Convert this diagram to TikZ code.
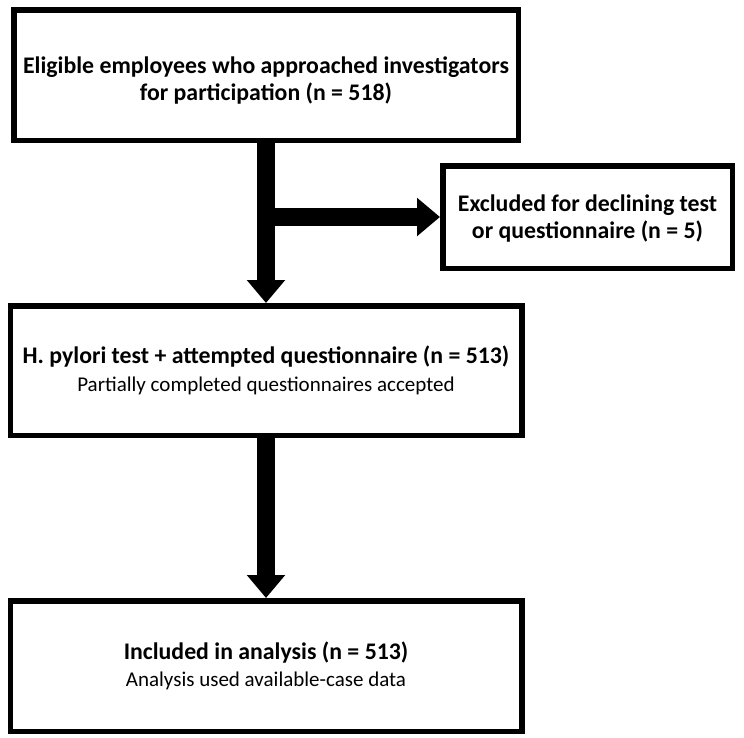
\documentclass[tikz,border=0pt]{standalone}
\usepackage{fontspec}
\setmainfont{Carlito}
\usetikzlibrary{positioning,arrows.meta}
\newcommand{\headline}{\fontsize{23.8}{28}\selectfont\bfseries}
\tikzset{
    flowbox/.style={draw=black,line width=5.5pt,fill=white,align=center,
        inner sep=6pt,font=\fontsize{21}{27.5}\selectfont},
    bigarrow/.style={-{Triangle[width=37pt,length=23pt]},draw=black,line width=18pt}
}

\begin{document}
\begin{tikzpicture}[x=1pt,y=1pt,node distance=160pt]
    \useasboundingbox (0,0) rectangle (744,-737);
    \node[flowbox,minimum width=504.5pt,minimum height=130.5pt] (elig) at (266,-75) {
        \rule{0pt}{28pt}\headline Eligible employees who approached investigators\\
        \headline for participation (n = 518)};
    \node[flowbox,minimum width=289.5pt,minimum height=102.5pt] (excl) at (587.5,-217) {
        \rule{0pt}{20pt}\headline Excluded for declining test\\
        \headline or questionnaire (n = 5)};
    \node[flowbox,minimum width=511.5pt,minimum height=129.5pt] (test) [below=of elig] {
        \headline H. pylori test + attempted questionnaire (n = 513)\\
        Partially completed questionnaires accepted};
    \node[flowbox,minimum width=511.5pt,minimum height=130.5pt] (incl) [below=of test] {
        \headline Included in analysis (n = 513)\\
        Analysis used available-case data};
    % arrows
    \draw[bigarrow] (elig.south) -- (test.north);
    \draw[bigarrow] (elig.south |- excl.west) -- (excl.west);
    \draw[bigarrow] (test.south) -- (incl.north);
\end{tikzpicture}
\end{document}
